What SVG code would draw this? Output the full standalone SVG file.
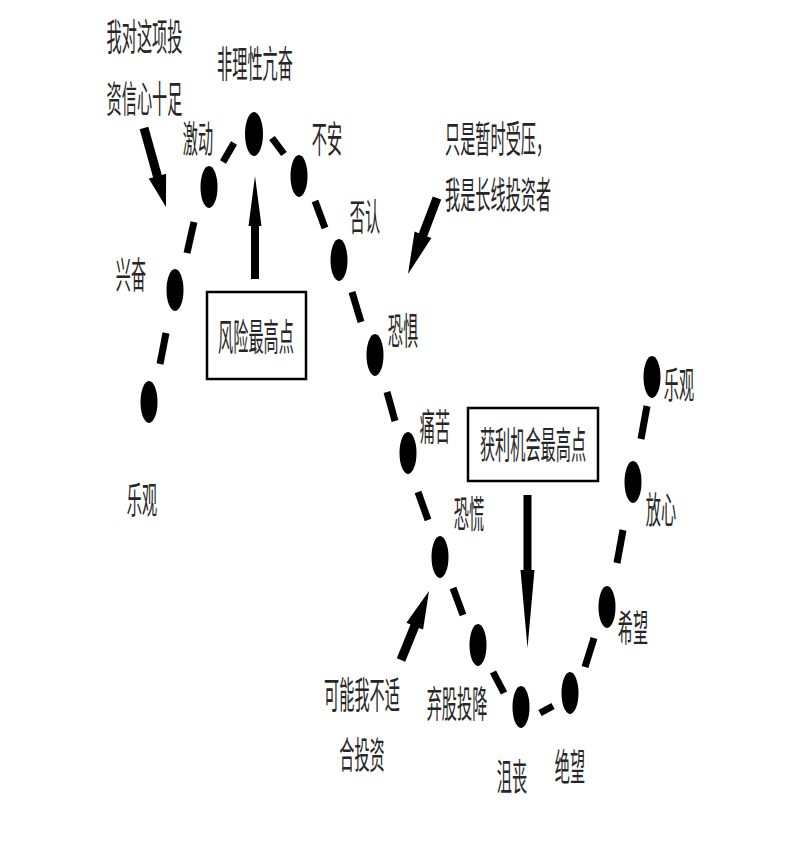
<svg xmlns="http://www.w3.org/2000/svg" width="785" height="844" viewBox="0 0 785 844">
<style>
.t{font-family:"Noto Sans CJK SC","Noto Sans",sans-serif;font-size:37px;fill:#262626;text-anchor:middle}
.ts{font-family:"Noto Sans CJK SC","Noto Sans",sans-serif;font-size:37px;fill:#262626;text-anchor:start}
.dot{fill:#000}
.dash{stroke:#000;stroke-width:7;stroke-linecap:butt;fill:none}
.arr{fill:#000}
.box{fill:#fff;stroke:#000;stroke-width:2.5}
</style>
<rect width="785" height="844" fill="#fff"/>
<g id="connectors">
<line class="dash" x1="166" y1="333" x2="160" y2="364"/>
<line class="dash" x1="194" y1="222" x2="187" y2="253"/>
<line class="dash" x1="234" y1="143" x2="223" y2="162"/>
<line class="dash" x1="272" y1="138" x2="284" y2="154"/>
<line class="dash" x1="315" y1="201" x2="325" y2="228"/>
<line class="dash" x1="352" y1="292" x2="361" y2="322"/>
<line class="dash" x1="387" y1="392" x2="395" y2="421"/>
<line class="dash" x1="418" y1="492" x2="428" y2="520"/>
<line class="dash" x1="453" y1="588" x2="463" y2="615"/>
<line class="dash" x1="493" y1="672" x2="504" y2="693"/>
<line class="dash" x1="540" y1="713" x2="553" y2="706"/>
<line class="dash" x1="585" y1="667" x2="594" y2="638"/>
<line class="dash" x1="623" y1="530" x2="617" y2="563"/>
<line class="dash" x1="647" y1="406" x2="641" y2="439"/>
<polygon class="arr" points="139.7,129.2 148.3,126.8 161.8,175 166.1,173.8 166,207 148.7,178.6 153.1,177.4"/>
<polygon class="arr" points="432.8,196.4 441.2,199.6 427.2,236.4 431.4,238 408,274 414.6,231.6 418.8,233.2"/>
<polygon class="arr" points="405.2,661.7 396.8,658.3 410.5,624.5 406.4,622.8 429,591 423.1,629.6 418.9,627.9"/>
<polygon class="arr" points="251,279 259,279 259,226 261.5,226 255,176 248.5,226 251,226"/>
<polygon class="arr" points="523.5,495 531.5,495 531.5,570 534.5,570 527.5,648 520.5,570 523.5,570"/>
</g>
<g id="n-leguan1"><ellipse class="dot" cx="149" cy="402" rx="8.5" ry="21"/><text class="t" transform="translate(142,514) scale(0.41,1)">乐观</text></g>
<g id="n-xingfen"><ellipse class="dot" cx="175" cy="290" rx="8.5" ry="21"/><text class="t" transform="translate(131,289) scale(0.41,1)">兴奋</text></g>
<g id="n-jidong"><ellipse class="dot" cx="209" cy="187" rx="8.5" ry="21"/><text class="t" transform="translate(198,153) scale(0.41,1)">激动</text></g>
<g id="n-peak"><ellipse class="dot" cx="254" cy="134" rx="9" ry="22"/><text class="t" transform="translate(255,78) scale(0.41,1)">非理性亢奋</text></g>
<g id="n-buan"><ellipse class="dot" cx="299" cy="176" rx="8.5" ry="21"/><text class="t" transform="translate(327,153) scale(0.41,1)">不安</text></g>
<g id="n-fouren"><ellipse class="dot" cx="339" cy="260" rx="8.5" ry="21"/><text class="t" transform="translate(365,231) scale(0.41,1)">否认</text></g>
<g id="n-kongju"><ellipse class="dot" cx="375" cy="355" rx="8.5" ry="21"/><text class="t" transform="translate(403,345) scale(0.41,1)">恐惧</text></g>
<g id="n-tongku"><ellipse class="dot" cx="408" cy="453" rx="8.5" ry="21"/><text class="t" transform="translate(435,441) scale(0.41,1)">痛苦</text></g>
<g id="n-konghuang"><ellipse class="dot" cx="440" cy="557" rx="8.5" ry="21"/><text class="t" transform="translate(469,528) scale(0.41,1)">恐慌</text></g>
<g id="n-qigu"><ellipse class="dot" cx="478" cy="645" rx="8.5" ry="21"/><text class="t" transform="translate(457,718) scale(0.41,1)">弃股投降</text></g>
<g id="n-jusang"><ellipse class="dot" cx="521" cy="707" rx="8.5" ry="21"/><text class="t" transform="translate(512,791) scale(0.41,1)">沮丧</text></g>
<g id="n-juewang"><ellipse class="dot" cx="570" cy="693" rx="8.5" ry="21"/><text class="t" transform="translate(570,781) scale(0.41,1)">绝望</text></g>
<g id="n-xiwang"><ellipse class="dot" cx="607" cy="607" rx="8.5" ry="21"/><text class="t" transform="translate(633,642) scale(0.41,1)">希望</text></g>
<g id="n-fangxin"><ellipse class="dot" cx="633" cy="482" rx="8.5" ry="21"/><text class="t" transform="translate(661,524) scale(0.41,1)">放心</text></g>
<g id="n-leguan2"><ellipse class="dot" cx="652" cy="377" rx="8.5" ry="21"/><text class="t" transform="translate(679,399) scale(0.41,1)">乐观</text></g>
<g id="note-confident"><text class="t" transform="translate(144.5,51) scale(0.41,1)">我对这项投</text><text class="t" transform="translate(144.5,113) scale(0.41,1)">资信心十足</text></g>
<g id="note-longterm"><text class="ts" transform="translate(445,153) scale(0.41,1)">只是暂时受压，</text><text class="ts" transform="translate(445,209) scale(0.41,1)">我是长线投资者</text></g>
<g id="note-unsuitable"><text class="t" transform="translate(362,709) scale(0.41,1)">可能我不适</text><text class="t" transform="translate(362,769) scale(0.41,1)">合投资</text></g>
<g id="box-risk"><rect class="box" x="207" y="292" width="99" height="87"/><text class="t" transform="translate(256,351) scale(0.41,1)">风险最高点</text></g>
<g id="box-profit"><rect class="box" x="468" y="408" width="130" height="73"/><text class="t" transform="translate(533,459) scale(0.41,1)">获利机会最高点</text></g>
</svg>
